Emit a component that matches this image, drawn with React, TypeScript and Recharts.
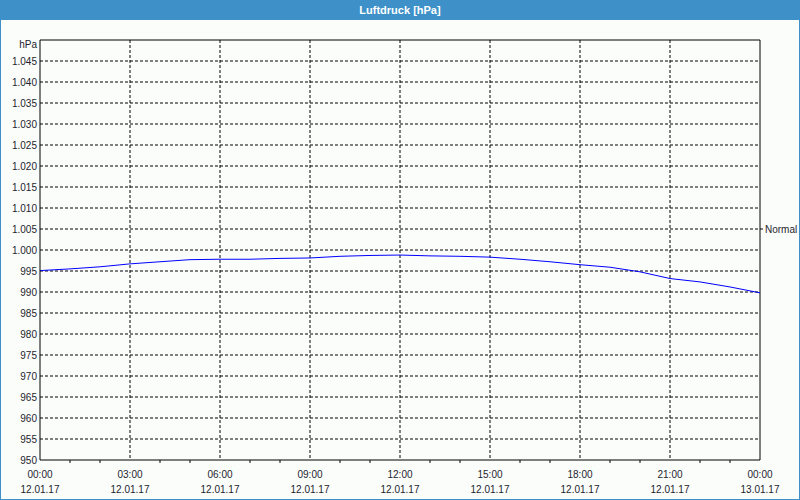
import React from "react";
import { Line, LineChart, CartesianGrid, XAxis, YAxis, ReferenceLine } from "recharts";

const BLUE_BAR = "#3d91c8";
const LINE = "#0000ff";
const INK = "#1e1e2e";
const FONT = "'Liberation Sans', Arial, sans-serif";
const FS = 10;

// Stunden ab 12.01.17 00:00
const hours = [0, 1, 2, 3, 4, 5, 6, 7, 8, 9, 10, 11, 12, 13, 14, 15, 16, 17, 18, 19, 20, 21, 22, 23, 24];
const druck = [
  995.1, 995.5, 996.0, 996.7, 997.2, 997.7, 997.8, 997.8, 998.0, 998.1, 998.5, 998.7, 998.8,
  998.6, 998.5, 998.3, 997.8, 997.2, 996.5, 995.9, 994.8, 993.2, 992.4, 991.2, 989.8,
];
const xTicks = hours;
const yTicks = [950, 955, 960, 965, 970, 975, 980, 985, 990, 995, 1000, 1005, 1010, 1015, 1020, 1025, 1030, 1035, 1040, 1045, 1050];
const gridY = yTicks.slice(1, -1);
const gridX = [3, 6, 9, 12, 15, 18, 21];
const normalWert = 1005;

const data = hours.map((h, i) => ({ h, p: druck[i] }));

const fmtY = (v: number) => {
  if (v === 1050) return "hPa";
  if (v >= 1000) return `1.${String(v - 1000).padStart(3, "0")}`;
  return String(v);
};

function XTick(props: any) {
  const { x, y, payload } = props;
  const v = payload.value as number;
  if (v % 3 !== 0) {
    return <line x1={x} y1={y} x2={x} y2={y + 3} stroke="#000" />;
  }
  const hh = v === 24 ? "00:00" : `${String(v).padStart(2, "0")}:00`;
  const day = v === 24 ? "13.01.17" : "12.01.17";
  return (
    <g>
      <text x={x} y={y + 18} textAnchor="middle" fontSize={FS} fill={INK} fontFamily={FONT}>
        {hh}
      </text>
      <text x={x} y={y + 33} textAnchor="middle" fontSize={FS} fill={INK} fontFamily={FONT}>
        {day}
      </text>
    </g>
  );
}

function YTick(props: any) {
  const { x, y, payload } = props;
  const v = payload.value as number;
  return (
    <text x={x} y={v === 1050 ? y + 8 : y + 4} textAnchor="end" fontSize={FS} fill={INK} fontFamily={FONT}>
      {fmtY(v)}
    </text>
  );
}

// Markierung "Normal" rechts neben dem Plot
function NormalLabel(props: any) {
  const { viewBox } = props;
  if (!viewBox) return null;
  const xr = viewBox.x + viewBox.width;
  const y = viewBox.y;
  return (
    <g>
      <line x1={xr} y1={y} x2={xr + 3} y2={y} stroke="#000" />
      <text x={xr + 5} y={y + 4} fontSize={FS} fill={INK} fontFamily={FONT}>
        Normal
      </text>
    </g>
  );
}

export default function App() {
  return (
    <div
      style={{
        position: "absolute",
        left: 0,
        top: 0,
        width: 800,
        height: 500,
        boxSizing: "border-box",
        border: `1px solid ${BLUE_BAR}`,
        background: "#fbfdfb",
        overflow: "hidden",
      }}
    >
      <div
        style={{
          height: 19,
          background: BLUE_BAR,
          color: "#fff",
          fontFamily: FONT,
          fontWeight: "bold",
          fontSize: 11,
          lineHeight: "19px",
          textAlign: "center",
        }}
      >
        Luftdruck [hPa]
      </div>
      <div style={{ position: "absolute", left: -1, top: -1 }}>
        <LineChart width={801} height={500} data={data} margin={{ top: 40, right: 41, bottom: 0, left: 0 }}>
          <CartesianGrid
            stroke="#000"
            strokeDasharray="3 2"
            horizontalValues={gridY}
            verticalValues={gridX}
          />
          <XAxis
            dataKey="h"
            type="number"
            domain={[0, 24]}
            ticks={xTicks}
            interval={0}
            height={40}
            tickSize={0}
            tickMargin={0}
            tickLine={false}
            stroke="#000"
            tick={<XTick />}
          />
          <YAxis
            domain={[950, 1050]}
            ticks={yTicks}
            interval={0}
            width={40}
            tickSize={1}
            tickMargin={2}
            tickLine={false}
            stroke="#000"
            tick={<YTick />}
          />
          <ReferenceLine y={1050} stroke="#000" />
          <ReferenceLine x={24} stroke="#000" />
          <ReferenceLine y={normalWert} stroke="none" label={<NormalLabel />} />
          <Line
            dataKey="p"
            type="linear"
            stroke={LINE}
            strokeWidth={1}
            dot={false}
            isAnimationActive={false}
          />
        </LineChart>
      </div>
    </div>
  );
}
